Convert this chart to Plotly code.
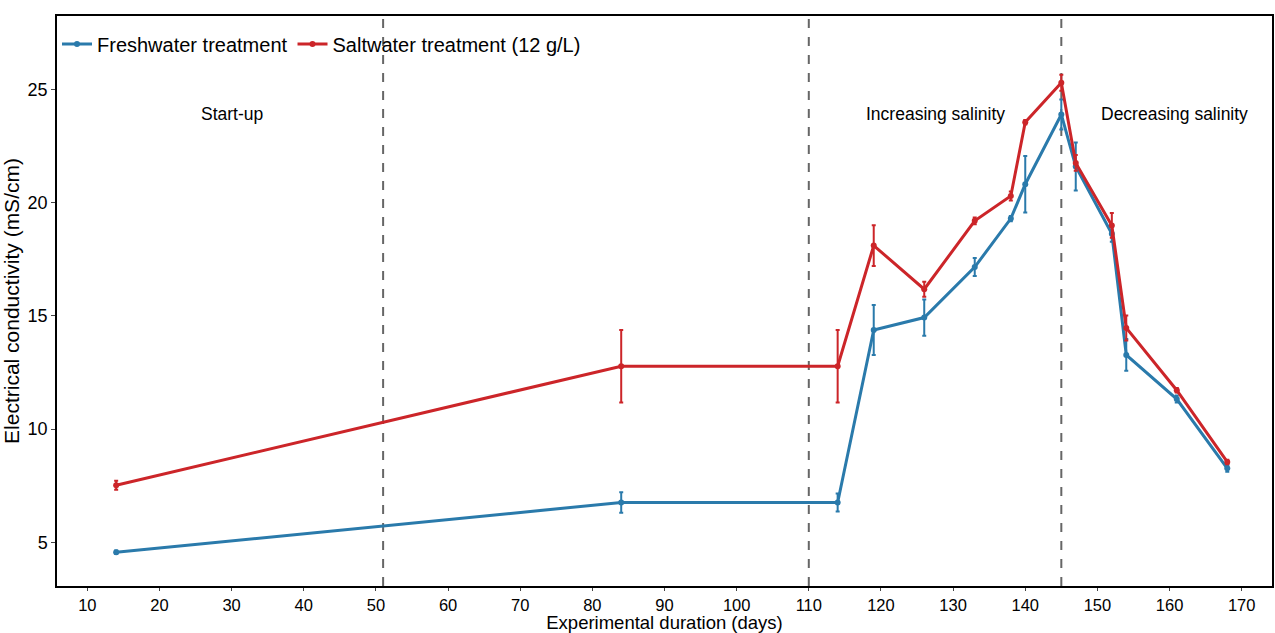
import plotly.graph_objects as go

days = [14, 84, 114, 119, 126, 133, 138, 140, 145, 147, 152, 154, 161, 168]
fresh = [4.56, 6.76, 6.76, 14.38, 14.93, 17.16, 19.3, 20.82, 23.9, 21.6, 18.63, 13.28, 11.33, 8.27]
fresh_err = [0.08, 0.45, 0.4, 1.1, 0.8, 0.4, 0.12, 1.25, 0.66, 1.06, 0.35, 0.7, 0.15, 0.15]
salt = [7.52, 12.78, 12.78, 18.11, 16.18, 19.2, 20.3, 23.56, 25.3, 21.76, 19.0, 14.47, 11.72, 8.55]
salt_err = [0.2, 1.6, 1.6, 0.9, 0.33, 0.15, 0.2, 0.1, 0.35, 0.35, 0.55, 0.55, 0.1, 0.1]

phase_lines = [51, 110, 145]
phase_labels = ["Start-up", "Increasing salinity", "Decreasing salinity"]
phase_label_x = [30, 127.5, 160.7]
phase_label_y = [23.9, 23.9, 23.9]

x_ticks = list(range(10, 171, 10))
y_ticks = [5, 10, 15, 20, 25]

BLUE = "#2A7AAB"
RED = "#CC2529"
FONT = "Liberation Sans, Arial, sans-serif"

fig = go.Figure()
fig.add_trace(go.Scatter(
    x=days, y=fresh, mode="lines+markers", name="Freshwater treatment",
    line=dict(color=BLUE, width=3), marker=dict(color=BLUE, size=6),
    error_y=dict(type="data", array=fresh_err, color=BLUE, thickness=2, width=2),
))
fig.add_trace(go.Scatter(
    x=days, y=salt, mode="lines+markers", name="Saltwater treatment (12 g/L)",
    line=dict(color=RED, width=3), marker=dict(color=RED, size=6),
    error_y=dict(type="data", array=salt_err, color=RED, thickness=2, width=2),
))

for xv in phase_lines:
    fig.add_shape(type="line", x0=xv, x1=xv, y0=0, y1=1, xref="x", yref="paper",
                  line=dict(color="#666666", width=2, dash="dash"), layer="below")

for lbl, lx, ly in zip(phase_labels, phase_label_x, phase_label_y):
    fig.add_annotation(x=lx, y=ly, text=lbl, showarrow=False,
                       font=dict(family=FONT, size=17.5, color="black"))

fig.update_layout(
    width=1275, height=633,
    margin=dict(l=57, r=1, t=16, b=47),
    plot_bgcolor="white", paper_bgcolor="white",
    font=dict(family=FONT, color="black"),
    showlegend=True,
    legend=dict(orientation="h", x=0.0, y=0.985, xanchor="left", yanchor="top",
                font=dict(family=FONT, size=20, color="black"),
                bgcolor="rgba(0,0,0,0)", itemwidth=30, tracegroupgap=0),
    xaxis=dict(range=[5.8, 174.2], tickvals=x_ticks, ticks="outside", ticklen=3,
               tickcolor="#444", showgrid=False, zeroline=False,
               showline=True, linecolor="black", linewidth=1.5, mirror=True,
               tickfont=dict(family=FONT, size=16.5, color="black"),
               title=dict(text="Experimental duration (days)",
                          font=dict(family=FONT, size=18.5, color="black"), standoff=0)),
    yaxis=dict(range=[3.07, 28.25], tickvals=y_ticks, ticks="outside", ticklen=4,
               tickcolor="#444", showgrid=False, zeroline=False,
               showline=True, linecolor="black", linewidth=1.5, mirror=True,
               tickfont=dict(family=FONT, size=18, color="black"),
               title=dict(text="Electrical conductivity (mS/cm)",
                          font=dict(family=FONT, size=21, color="black"), standoff=4)),
)

fig.write_html("out.html")
